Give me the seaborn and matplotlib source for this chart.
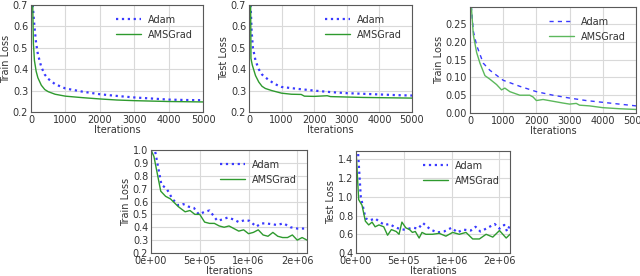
import seaborn as sns
import matplotlib
matplotlib.use("Agg")
import matplotlib.pyplot as plt
from matplotlib.ticker import MultipleLocator, FormatStrFormatter

# ---- data ----
# top left: train loss (iterations 0-5000)
tl_adam_x = [50, 100, 150, 200, 300, 400, 500, 700, 1000, 1500, 2000, 2500, 3000, 3500, 4000, 4500, 5000]
tl_adam_y = [0.70, 0.60, 0.52, 0.47, 0.41, 0.375, 0.355, 0.33, 0.31, 0.295, 0.283, 0.275, 0.268, 0.263, 0.258, 0.256, 0.255]
tl_ams_x = [50, 70, 100, 150, 200, 300, 400, 500, 700, 1000, 1500, 2000, 2500, 3000, 3500, 4000, 4500, 5000]
tl_ams_y = [0.70, 0.52, 0.44, 0.39, 0.36, 0.325, 0.305, 0.295, 0.283, 0.274, 0.267, 0.261, 0.256, 0.253, 0.251, 0.249, 0.248, 0.247]

# top middle: test loss
tm_adam_x = [50, 80, 120, 200, 300, 400, 600, 800, 1000, 1500, 2000, 2500, 3000, 3500, 4000, 4500, 5000]
tm_adam_y = [0.70, 0.58, 0.50, 0.44, 0.40, 0.375, 0.35, 0.33, 0.317, 0.308, 0.30, 0.293, 0.288, 0.285, 0.282, 0.279, 0.277]
tm_ams_x = [50, 60, 100, 200, 300, 400, 500, 700, 1000, 1300, 1600, 1700, 2000, 2400, 2500, 3000, 3500, 4000, 4500, 5000]
tm_ams_y = [0.70, 0.45, 0.42, 0.37, 0.34, 0.32, 0.31, 0.30, 0.288, 0.283, 0.282, 0.274, 0.273, 0.276, 0.272, 0.27, 0.268, 0.267, 0.266, 0.265]

# top right: train loss, small scale
tr_adam_x = [40, 100, 200, 400, 600, 1000, 1500, 2000, 2500, 3000, 3500, 4000, 4500, 5000]
tr_adam_y = [0.30, 0.23, 0.19, 0.14, 0.12, 0.092, 0.075, 0.06, 0.05, 0.042, 0.035, 0.03, 0.025, 0.02]
tr_ams_x = [40, 100, 200, 300, 450, 600, 800, 950, 1050, 1200, 1500, 1800, 1900, 2000, 2200, 2500,
            2800, 3000, 3200, 3300, 3600, 4000, 4500, 5000]
tr_ams_y = [0.30, 0.22, 0.17, 0.14, 0.105, 0.095, 0.08, 0.065, 0.07, 0.06, 0.05, 0.05, 0.045, 0.035, 0.038, 0.033,
            0.028, 0.025, 0.027, 0.022, 0.02, 0.015, 0.012, 0.01]

# bottom left: train loss (iterations 0-1.6e6)
bl_adam_x = [0.0e6, 0.04e6, 0.107e6, 0.16e6, 0.22e6, 0.28e6, 0.33e6, 0.385e6, 0.44e6, 0.49e6, 0.55e6, 0.6e6,
             0.68e6, 0.73e6, 0.785e6, 0.85e6, 0.9e6, 0.96e6, 1.01e6, 1.08e6, 1.13e6, 1.18e6, 1.29e6,
             1.36e6, 1.43e6, 1.5e6, 1.6e6]
bl_adam_y = [1.0, 1.0, 0.73, 0.70, 0.62, 0.57, 0.58, 0.56, 0.55, 0.50, 0.52, 0.53,
             0.45, 0.46, 0.475, 0.46, 0.44, 0.455, 0.45, 0.405, 0.43, 0.43, 0.418,
             0.43, 0.40, 0.39, 0.39]
bl_ams_x = [0.0e6, 0.03e6, 0.1e6, 0.15e6, 0.2e6, 0.28e6, 0.35e6, 0.4e6, 0.45e6, 0.5e6, 0.55e6, 0.6e6,
            0.65e6, 0.7e6, 0.75e6, 0.8e6, 0.85e6, 0.9e6, 0.95e6, 1.0e6, 1.05e6, 1.1e6, 1.15e6,
            1.2e6, 1.25e6, 1.3e6, 1.35e6, 1.4e6, 1.45e6, 1.5e6, 1.55e6, 1.6e6]
bl_ams_y = [1.0, 0.95, 0.68, 0.64, 0.62, 0.56, 0.52, 0.53, 0.50, 0.50, 0.44, 0.43,
            0.43, 0.41, 0.40, 0.41, 0.39, 0.37, 0.38, 0.35, 0.36, 0.38, 0.34,
            0.33, 0.36, 0.33, 0.32, 0.32, 0.34, 0.30, 0.32, 0.30]

# bottom right: test loss
br_adam_x = [0.0e6, 0.02e6, 0.05e6, 0.1e6, 0.15e6, 0.2e6, 0.25e6, 0.3e6, 0.35e6, 0.4e6, 0.45e6, 0.5e6,
             0.55e6, 0.6e6, 0.65e6, 0.7e6, 0.78e6, 0.85e6, 0.92e6, 1.0e6, 1.06e6, 1.12e6, 1.2e6,
             1.25e6, 1.3e6, 1.36e6, 1.45e6, 1.5e6, 1.55e6, 1.58e6, 1.61e6]
br_adam_y = [1.5, 1.5, 1.0, 0.77, 0.75, 0.77, 0.73, 0.70, 0.71, 0.68, 0.66, 0.65,
             0.66, 0.67, 0.66, 0.72, 0.65, 0.62, 0.63, 0.67, 0.62, 0.65, 0.64,
             0.68, 0.63, 0.66, 0.71, 0.66, 0.70, 0.63, 0.70]
br_ams_x = [0.0e6, 0.028e6, 0.063e6, 0.098e6, 0.133e6, 0.168e6, 0.2e6, 0.24e6, 0.29e6, 0.33e6, 0.37e6,
            0.42e6, 0.45e6, 0.48e6, 0.52e6, 0.56e6, 0.59e6, 0.62e6, 0.66e6, 0.69e6, 0.73e6, 0.8e6,
            0.87e6, 0.94e6, 1.01e6, 1.08e6, 1.15e6, 1.22e6, 1.29e6, 1.36e6, 1.43e6, 1.5e6,
            1.57e6, 1.61e6]
br_ams_y = [1.5, 0.97, 0.91, 0.74, 0.70, 0.73, 0.68, 0.70, 0.68, 0.59, 0.65, 0.63,
            0.60, 0.73, 0.67, 0.65, 0.62, 0.63, 0.56, 0.62, 0.60, 0.60,
            0.61, 0.58, 0.62, 0.60, 0.62, 0.55, 0.55, 0.60, 0.57, 0.64,
            0.56, 0.60]

# ---- style ----
sns.set_style("whitegrid", {"axes.edgecolor": "0.35", "grid.color": "0.85",
                            "axes.linewidth": 1.0})
plt.rcParams["font.family"] = ["DejaVu Sans"]
plt.rcParams["font.size"] = 7
plt.rcParams["text.color"] = "0.2"
plt.rcParams["axes.labelcolor"] = "0.2"
plt.rcParams["xtick.color"] = "0.2"
plt.rcParams["ytick.color"] = "0.2"

ADAM_COLOR = "#3a3aff"
AMS_COLOR = "#2e9a2e"

fig = plt.figure(figsize=(6.4, 2.76), dpi=100)
W, H = 640, 276


def make_ax(left, right, top, bottom):
    return fig.add_axes([left / W, 1 - bottom / H, (right - left) / W, (bottom - top) / H])


def draw_panel(ax, ax_x, ad_y, am_x, am_y, ylabel, adam_ls=":", lw=1.6, ams_color=AMS_COLOR):
    sns.lineplot(x=ax_x, y=ad_y, ax=ax, color=ADAM_COLOR, linestyle=adam_ls, linewidth=lw, label="Adam")
    sns.lineplot(x=am_x, y=am_y, ax=ax, color=ams_color, linewidth=1.0, label="AMSGrad")
    ax.set_xlabel("Iterations", labelpad=0.5)
    ax.set_ylabel(ylabel, labelpad=1)
    ax.tick_params(length=0, labelsize=7)
    ax.tick_params(axis="x", pad=2)
    ax.tick_params(axis="y", pad=2)
    ax.legend(loc="upper right", frameon=False, fontsize=7, handlelength=2.5, borderaxespad=0.6)


ax1 = make_ax(31, 203, 5, 112)
draw_panel(ax1, tl_adam_x, tl_adam_y, tl_ams_x, tl_ams_y, "Train Loss")
ax1.set_xlim(0, 5000)
ax1.set_ylim(0.2, 0.7)
ax1.yaxis.set_major_locator(MultipleLocator(0.1))

ax2 = make_ax(249, 412, 5, 112)
draw_panel(ax2, tm_adam_x, tm_adam_y, tm_ams_x, tm_ams_y, "Test Loss")
ax2.set_xlim(0, 5000)
ax2.set_ylim(0.2, 0.7)
ax2.yaxis.set_major_locator(MultipleLocator(0.1))

ax3 = make_ax(470, 636, 7, 113)
draw_panel(ax3, tr_adam_x, tr_adam_y, tr_ams_x, tr_ams_y, "Train Loss",
           adam_ls=(0, (3, 3)), lw=1.0, ams_color="#5cb85c")
ax3.set_xlim(0, 5000)
ax3.set_ylim(0, 0.298)
ax3.yaxis.set_major_locator(MultipleLocator(0.05))
ax3.yaxis.set_major_formatter(FormatStrFormatter("%.2f"))

for ax in (ax1, ax2, ax3):
    ax.xaxis.set_major_locator(MultipleLocator(1000))

ax4 = make_ax(151, 307, 150, 253)
draw_panel(ax4, bl_adam_x, bl_adam_y, bl_ams_x, bl_ams_y, "Train Loss")
ax4.set_xlim(0, 1.6e6)
ax4.set_ylim(0.2, 1.0)
ax4.yaxis.set_major_locator(MultipleLocator(0.1))

ax5 = make_ax(356, 510, 151, 253)
draw_panel(ax5, br_adam_x, br_adam_y, br_ams_x, br_ams_y, "Test Loss")
ax5.set_xlim(0, 1.61e6)
ax5.set_ylim(0.4, 1.49)
ax5.yaxis.set_major_locator(MultipleLocator(0.2))

for ax in (ax4, ax5):
    ax.xaxis.set_major_locator(MultipleLocator(5e5))
    ax.xaxis.set_major_formatter(FormatStrFormatter("%.0e"))

plt.savefig("out.png", dpi=100)
plt.close()
